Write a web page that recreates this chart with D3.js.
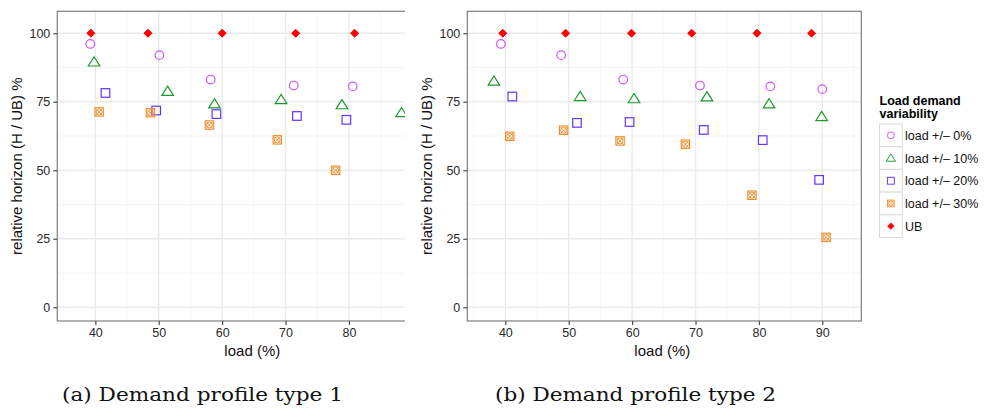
<!DOCTYPE html>
<html>
<head>
<meta charset="utf-8">
<script src="https://cdn.jsdelivr.net/npm/d3@7"></script>
<style>
  body { margin: 0; background: #fff; }
  text { font-family: "Liberation Sans", Arial, sans-serif; }
</style>
</head>
<body>
<div id="chart"></div>
<script>
// series names
const seriesNames = ["load +/\u2013 0%", "load +/\u2013 10%", "load +/\u2013 20%", "load +/\u2013 30%", "UB"];
const xTicks = [40, 50, 60, 70, 80, 90];
const yTicks = [0, 25, 50, 75, 100];

// panel (a)
const a_ub_x = [39.3, 48.3, 60.0, 71.6, 80.9];
const a_ub_y = [100, 100, 100, 100, 100];
const a_p0_x = [39.2, 50.1, 58.2, 71.3, 80.6];
const a_p0_y = [96.1, 92.0, 83.1, 80.9, 80.6];
const a_p10_x = [39.8, 51.4, 58.8, 69.3, 78.9, 88.3];
const a_p10_y = [89.5, 78.8, 74.2, 75.8, 73.9, 71.0];
const a_p20_x = [41.6, 49.6, 59.1, 71.8, 79.6];
const a_p20_y = [78.2, 71.8, 70.5, 69.8, 68.4];
const a_p30_x = [40.6, 48.7, 58.0, 68.7, 77.9];
const a_p30_y = [71.3, 71.0, 66.5, 61.1, 50.0];

// panel (b)
const b_ub_x = [39.6, 49.5, 59.9, 69.4, 79.7, 88.3];
const b_ub_y = [100, 100, 100, 100, 100, 100];
const b_p0_x = [39.3, 48.8, 58.6, 70.7, 81.8, 90.0];
const b_p0_y = [96.1, 92.0, 83.1, 80.9, 80.6, 79.6];
const b_p10_x = [38.2, 51.8, 60.3, 71.8, 81.6, 89.9];
const b_p10_y = [82.5, 76.9, 76.1, 76.8, 74.2, 69.6];
const b_p20_x = [41.1, 51.3, 59.6, 71.3, 80.6, 89.5];
const b_p20_y = [76.9, 67.3, 67.6, 64.7, 61.0, 46.5];
const b_p30_x = [40.7, 49.2, 58.1, 68.4, 78.9, 90.6];
const b_p30_y = [62.4, 64.6, 60.7, 59.5, 40.9, 25.5];

const colors = ["#cc55ff", "#1a9a2e", "#6633ff", "#f08a24", "#ff0000"];

const svg = d3.select("#chart")
    .append("svg")
    .attr("width", 985)
    .attr("height", 412);

function drawMarker(g, kind, x, y) {
    const c = colors[kind];
    if (kind == 0) {
        g.append("circle").attr("cx", x).attr("cy", y).attr("r", 4.3)
            .attr("fill", "none").attr("stroke", c).attr("stroke-width", 1.2);
    } else if (kind == 1) {
        g.append("path")
            .attr("d", `M${x},${y - 5.2} L${x + 5.8},${y + 4} L${x - 5.8},${y + 4} Z`)
            .attr("fill", "none").attr("stroke", c).attr("stroke-width", 1.2);
    } else if (kind == 2) {
        g.append("rect").attr("x", x - 4.3).attr("y", y - 4.3).attr("width", 8.6).attr("height", 8.6)
            .attr("fill", "none").attr("stroke", c).attr("stroke-width", 1.2);
    } else if (kind == 3) {
        g.append("rect").attr("x", x - 4.2).attr("y", y - 4.2).attr("width", 8.4).attr("height", 8.4)
            .attr("fill", "none").attr("stroke", c).attr("stroke-width", 1.1);
        g.append("circle").attr("cx", x).attr("cy", y).attr("r", 3)
            .attr("fill", "none").attr("stroke", c).attr("stroke-width", 0.9);
        g.append("path")
            .attr("d", `M${x - 3.5},${y - 3.5} L${x + 3.5},${y + 3.5} M${x + 3.5},${y - 3.5} L${x - 3.5},${y + 3.5}`)
            .attr("stroke", c).attr("stroke-width", 0.9);
    } else {
        g.append("path")
            .attr("d", `M${x},${y - 4} L${x + 4},${y} L${x},${y + 4} L${x - 4},${y} Z`)
            .attr("fill", c).attr("stroke", c).attr("stroke-width", 1).attr("stroke-linejoin", "round");
    }
}

function drawPanel(left, clipRight, series, id) {
    const top = 11.3, bottom = 321, width = 394;
    const x = d3.scaleLinear().domain([34, 96.15]).range([left, left + width]);
    const y = d3.scaleLinear().domain([-5, 108]).range([bottom, top]);

    svg.append("clipPath").attr("id", id)
        .append("rect").attr("x", 0).attr("y", 0).attr("width", clipRight).attr("height", 412);
    const g = svg.append("g").attr("clip-path", `url(#${id})`);

    // minor grid
    const minorY = [12.5, 37.5, 62.5, 87.5];
    const minorX = [35, 45, 55, 65, 75, 85, 95];
    minorY.forEach(v => g.append("line").attr("x1", left).attr("x2", left + width)
        .attr("y1", y(v)).attr("y2", y(v)).attr("stroke", "#f5f5f5").attr("stroke-width", 1));
    minorX.forEach(v => g.append("line").attr("x1", x(v)).attr("x2", x(v))
        .attr("y1", top).attr("y2", bottom).attr("stroke", "#f7f7f7").attr("stroke-width", 1));
    // major grid
    yTicks.forEach(v => g.append("line").attr("x1", left).attr("x2", left + width)
        .attr("y1", y(v)).attr("y2", y(v)).attr("stroke", "#ebebeb").attr("stroke-width", 1.4));
    xTicks.forEach(v => g.append("line").attr("x1", x(v)).attr("x2", x(v))
        .attr("y1", top).attr("y2", bottom).attr("stroke", "#ebebeb").attr("stroke-width", 1.4));

    // points
    series.forEach((s, k) => {
        s[0].forEach((xv, i) => drawMarker(g, k, x(xv), y(s[1][i])));
    });

    // border
    g.append("rect").attr("x", left).attr("y", top).attr("width", width).attr("height", bottom - top)
        .attr("fill", "none").attr("stroke", "#7f7f7f").attr("stroke-width", 1.2);

    // axes
    const xAxis = g.append("g").attr("transform", `translate(0,${bottom})`)
        .call(d3.axisBottom(x).tickValues(xTicks).tickSize(4).tickPadding(3));
    const yAxis = g.append("g").attr("transform", `translate(${left},0)`)
        .call(d3.axisLeft(y).tickValues(yTicks).tickSize(4).tickPadding(3));
    [xAxis, yAxis].forEach(a => {
        a.select(".domain").remove();
        a.selectAll(".tick line").attr("stroke", "#4d4d4d").attr("stroke-width", 1.2);
        a.selectAll(".tick text").attr("fill", "#2a2a2a").style("font-size", "12.5px")
            .style("font-family", "'Liberation Sans', Arial, sans-serif");
    });

    g.append("text").attr("x", left + width / 2 - 2).attr("y", 356)
        .attr("text-anchor", "middle").style("font-size", "15px").attr("fill", "#111")
        .text("load (%)");
    g.append("text")
        .attr("transform", `translate(${left - 35},${(top + bottom) / 2}) rotate(-90)`)
        .attr("text-anchor", "middle").style("font-size", "15px").attr("fill", "#111")
        .text("relative horizon (H / UB) %");
}

drawPanel(57.3, 405, [[a_p0_x, a_p0_y], [a_p10_x, a_p10_y], [a_p20_x, a_p20_y], [a_p30_x, a_p30_y], [a_ub_x, a_ub_y]], "clipA");
drawPanel(467.3, 985, [[b_p0_x, b_p0_y], [b_p10_x, b_p10_y], [b_p20_x, b_p20_y], [b_p30_x, b_p30_y], [b_ub_x, b_ub_y]], "clipB");

// legend
const leg = svg.append("g");
leg.append("text").attr("x", 879.5).attr("y", 105).style("font-size", "12.5px")
    .style("font-weight", "bold").text("Load demand");
leg.append("text").attr("x", 879.5).attr("y", 118).style("font-size", "12.5px")
    .style("font-weight", "bold").text("variability");
const keySize = 22.7;
seriesNames.forEach((name, k) => {
    const ky = 124 + k * keySize;
    leg.append("rect").attr("x", 879.5).attr("y", ky).attr("width", keySize).attr("height", keySize)
        .attr("fill", "#fff").attr("stroke", "#d9d9d9").attr("stroke-width", 1);
    const cx = 879.5 + keySize / 2, cy = ky + keySize / 2;
    const sub = leg.append("g").attr("transform", `translate(${cx},${cy}) scale(0.8) translate(${-cx},${-cy})`);
    drawMarker(sub, k, cx, cy);
    leg.append("text").attr("x", 905).attr("y", cy + 4.5).style("font-size", "12.5px")
        .attr("fill", "#111").text(name);
});

// captions
const captions = ["(a) Demand profile type 1", "(b) Demand profile type 2"];
const capX = [62, 495];
captions.forEach((c, i) => {
    svg.append("text").attr("x", capX[i]).attr("y", 401)
        .style("font-family", "'DejaVu Serif', 'Liberation Serif', serif")
        .style("font-size", "19px").attr("fill", "#111")
        .attr("textLength", 281).attr("lengthAdjust", "spacingAndGlyphs")
        .text(c);
});
</script>
</body>
</html>
